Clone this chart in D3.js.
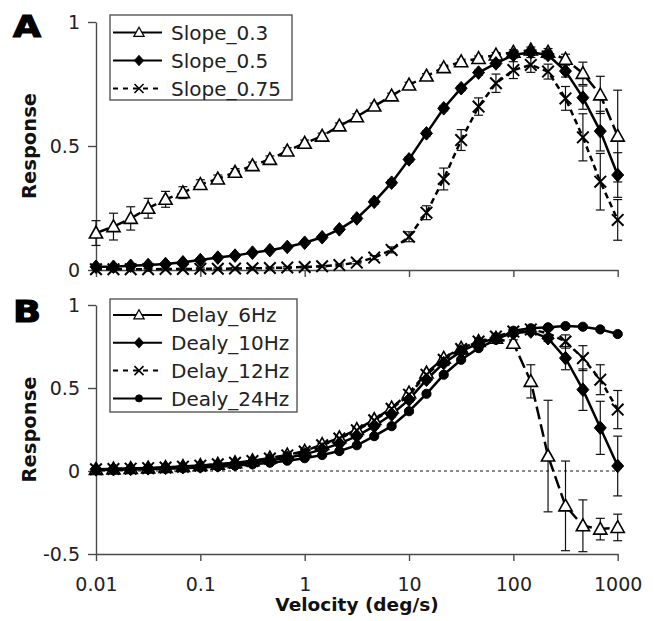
<!DOCTYPE html>
<html>
<head>
<meta charset="utf-8">
<script src="https://cdn.jsdelivr.net/npm/d3@7"></script>
<style>
  html, body { margin: 0; padding: 0; background: #fff; }
  svg { display: block; }
</style>
</head>
<body>
<svg id="chart" width="654" height="621"></svg>
<script>
// ---------------- DATA ----------------
const velocity = [0.01, 0.0147, 0.0215, 0.0316, 0.0464, 0.0681, 0.1, 0.147, 0.215, 0.316, 0.464, 0.681,
  1, 1.47, 2.15, 3.16, 4.64, 6.81, 10, 14.7, 21.5, 31.6, 46.4, 68.1, 100, 147, 215, 316, 464, 681, 1000];

const xTickValues = [0.01, 0.1, 1, 10, 100, 1000];
const xTickLabels = ["0.01", "0.1", "1", "10", "100", "1000"];
const yTicksA = [0, 0.5, 1];
const yTicksB = [-0.5, 0, 0.5, 1];

// Panel A
const slope03 = [0.149, 0.175, 0.208, 0.249, 0.285, 0.312, 0.345, 0.367, 0.394, 0.421, 0.446, 0.480, 0.511, 0.540, 0.581, 0.618,
  0.661, 0.702, 0.746, 0.782, 0.816, 0.840, 0.853, 0.867, 0.878, 0.887, 0.878, 0.850, 0.793, 0.706, 0.540];
const slope03Err = [0.05, 0.054, 0.047, 0.04, 0.032, 0.024, 0.019, 0.016, 0.015, 0.014, 0.014, 0.013, 0.013, 0.012, 0.012, 0.012,
  0.012, 0.011, 0.011, 0.01, 0.01, 0.01, 0.01, 0.01, 0.01, 0.012, 0.015, 0.02, 0.045, 0.075, 0.185];
const slope05 = [0.013, 0.013, 0.017, 0.02, 0.024, 0.031, 0.04, 0.05, 0.058, 0.07, 0.08, 0.093, 0.11, 0.132, 0.164, 0.208,
  0.275, 0.352, 0.446, 0.551, 0.652, 0.733, 0.796, 0.833, 0.867, 0.878, 0.867, 0.802, 0.695, 0.560, 0.383];
const slope05Err = [0.005, 0.005, 0.005, 0.005, 0.005, 0.005, 0.005, 0.005, 0.005, 0.005, 0.006, 0.006, 0.006, 0.007, 0.008, 0.009,
  0.01, 0.01, 0.01, 0.01, 0.01, 0.01, 0.01, 0.01, 0.012, 0.012, 0.015, 0.024, 0.047, 0.08, 0.09];
const slope075 = [0.003, 0.003, 0.003, 0.003, 0.004, 0.004, 0.005, 0.005, 0.006, 0.007, 0.008, 0.01, 0.012, 0.015, 0.02, 0.03,
  0.05, 0.081, 0.134, 0.231, 0.367, 0.524, 0.659, 0.753, 0.806, 0.827, 0.80, 0.692, 0.535, 0.356, 0.202];
const slope075Err = [0.003, 0.003, 0.003, 0.003, 0.003, 0.003, 0.003, 0.003, 0.003, 0.003, 0.003, 0.003, 0.003, 0.003, 0.004, 0.005,
  0.008, 0.012, 0.02, 0.028, 0.044, 0.042, 0.035, 0.037, 0.034, 0.03, 0.03, 0.048, 0.095, 0.114, 0.082];

// Panel B
const delay6 = [0.01, 0.012, 0.015, 0.018, 0.022, 0.027, 0.033, 0.041, 0.05, 0.062, 0.078, 0.097, 0.12, 0.16, 0.2, 0.25,
  0.31, 0.38, 0.47, 0.59, 0.68, 0.74, 0.78, 0.80, 0.77, 0.54, 0.09, -0.21, -0.33, -0.35, -0.34];
const delay6Err = [0.006, 0.006, 0.006, 0.006, 0.006, 0.006, 0.006, 0.007, 0.007, 0.008, 0.008, 0.009, 0.01, 0.01, 0.012, 0.012,
  0.014, 0.015, 0.015, 0.015, 0.015, 0.015, 0.015, 0.015, 0.02, 0.1, 0.336, 0.27, 0.156, 0.065, 0.08];
const delay10 = [0.01, 0.011, 0.013, 0.016, 0.019, 0.023, 0.028, 0.034, 0.042, 0.052, 0.064, 0.08, 0.1, 0.13, 0.165, 0.21,
  0.27, 0.34, 0.43, 0.55, 0.65, 0.72, 0.77, 0.80, 0.83, 0.84, 0.80, 0.68, 0.49, 0.26, 0.03];
const delay10Err = [0.006, 0.006, 0.006, 0.006, 0.006, 0.006, 0.006, 0.007, 0.007, 0.008, 0.008, 0.009, 0.01, 0.01, 0.012, 0.012,
  0.014, 0.015, 0.015, 0.015, 0.015, 0.015, 0.015, 0.015, 0.015, 0.015, 0.02, 0.07, 0.125, 0.16, 0.18];
const delay12 = [0.01, 0.012, 0.014, 0.017, 0.021, 0.026, 0.032, 0.04, 0.049, 0.06, 0.075, 0.094, 0.117, 0.155, 0.195, 0.245,
  0.305, 0.375, 0.46, 0.58, 0.67, 0.735, 0.78, 0.81, 0.84, 0.853, 0.83, 0.78, 0.68, 0.55, 0.37];
const delay12Err = [0.006, 0.006, 0.006, 0.006, 0.006, 0.006, 0.006, 0.007, 0.007, 0.008, 0.008, 0.009, 0.01, 0.01, 0.012, 0.012,
  0.014, 0.015, 0.015, 0.015, 0.015, 0.015, 0.015, 0.015, 0.015, 0.015, 0.02, 0.04, 0.075, 0.09, 0.115];
const delay24 = [0.005, 0.007, 0.009, 0.011, 0.014, 0.017, 0.021, 0.026, 0.032, 0.04, 0.05, 0.062, 0.077, 0.096, 0.12, 0.155,
  0.21, 0.27, 0.36, 0.465, 0.58, 0.67, 0.74, 0.79, 0.845, 0.86, 0.866, 0.873, 0.869, 0.853, 0.825];
const delay24Err = [0.005, 0.005, 0.005, 0.005, 0.005, 0.005, 0.005, 0.005, 0.006, 0.006, 0.006, 0.007, 0.007, 0.008, 0.008, 0.009,
  0.01, 0.01, 0.01, 0.01, 0.01, 0.01, 0.01, 0.01, 0.01, 0.01, 0.01, 0.01, 0.01, 0.01, 0.01];

// ---------------- SETUP ----------------
const svg = d3.select("#chart");
const FONT = "'DejaVu Sans', Verdana, sans-serif";
const AXIS_COLOR = "#4a4a4a";

const x = d3.scaleLog().domain([0.01, 1000]).range([96, 617.7]);
const yA = d3.scaleLinear().domain([0, 1]).range([270, 22]);
const yB = d3.scaleLinear().domain([-0.5, 1]).range([554, 305]);

const markerPaths = {
  triangle: "M0,-6.8 L6.6,5 L-6.6,5 Z",
  diamond: "M0,-6.8 L6,0 L0,6.8 L-6,0 Z",
  cross: "M-5.8,-5.8 L5.8,5.8 M-5.8,5.8 L5.8,-5.8"
};

const panelA = [
  { name: "Slope_0.3", values: slope03, err: slope03Err, marker: "triangle", dash: "13,5" },
  { name: "Slope_0.5", values: slope05, err: slope05Err, marker: "diamond", dash: null },
  { name: "Slope_0.75", values: slope075, err: slope075Err, marker: "cross", dash: "6,4" }
];
const panelB = [
  { name: "Delay_6Hz", values: delay6, err: delay6Err, marker: "triangle", dash: "13,5" },
  { name: "Dealy_10Hz", values: delay10, err: delay10Err, marker: "diamond", dash: null },
  { name: "Delay_12Hz", values: delay12, err: delay12Err, marker: "cross", dash: "6,4" },
  { name: "Dealy_24Hz", values: delay24, err: delay24Err, marker: "circle", dash: null }
];

function drawMarker(sel, type) {
  if (type === "circle") {
    sel.append("circle").attr("r", 4.6).attr("fill", "#000").attr("stroke", "#000").attr("stroke-width", 1);
  } else if (type === "triangle") {
    sel.append("path").attr("d", markerPaths.triangle).attr("fill", "#fff").attr("stroke", "#000").attr("stroke-width", 1.6);
  } else if (type === "diamond") {
    sel.append("path").attr("d", markerPaths.diamond).attr("fill", "#000").attr("stroke", "#000").attr("stroke-width", 1);
  } else if (type === "cross") {
    sel.append("path").attr("d", markerPaths.cross).attr("fill", "none").attr("stroke", "#000").attr("stroke-width", 2);
  }
}

function drawPanel(y, series, opts) {
  const g = svg.append("g");

  if (opts.zeroLine) {
    g.append("line")
      .attr("x1", x.range()[0]).attr("x2", x.range()[1])
      .attr("y1", y(0)).attr("y2", y(0))
      .attr("stroke", "#666").attr("stroke-width", 1.5).attr("stroke-dasharray", "3,3");
  }

  const yAxis = d3.axisLeft(y).tickValues(opts.yTicks).tickSize(8).tickSizeOuter(0).tickPadding(8)
    .tickFormat(d => String(d));
  const ya = g.append("g").attr("transform", `translate(${x.range()[0]},0)`).call(yAxis);

  const xAxis = d3.axisBottom(x).tickValues(xTickValues).tickSize(7).tickSizeOuter(0).tickPadding(17)
    .tickFormat((d, i) => opts.xLabels ? xTickLabels[i] : "");
  const xa = g.append("g").attr("transform", `translate(0,${y.range()[0]})`).call(xAxis);

  [ya, xa].forEach(a => {
    a.selectAll("path.domain").attr("stroke", AXIS_COLOR).attr("stroke-width", 1.4);
    a.selectAll(".tick line").attr("stroke", AXIS_COLOR).attr("stroke-width", 1.4);
    a.selectAll(".tick text").attr("font-family", FONT).attr("font-size", 19).attr("fill", "#222");
  });

  const line = d3.line().x((d, i) => x(velocity[i])).y(d => y(d));
  series.forEach(s => {
    g.append("path").datum(s.values)
      .attr("d", line)
      .attr("fill", "none").attr("stroke", "#000").attr("stroke-width", 2.5)
      .attr("stroke-dasharray", s.dash);
  });

  series.forEach(s => {
    const eg = g.append("g");
    s.values.forEach((v, i) => {
      const cx = x(velocity[i]);
      const y1 = y(v - s.err[i]), y2 = y(v + s.err[i]);
      eg.append("line").attr("x1", cx).attr("x2", cx).attr("y1", y1).attr("y2", y2)
        .attr("stroke", "#111").attr("stroke-width", 1.2);
      [y1, y2].forEach(yy => {
        eg.append("line").attr("x1", cx - 4.5).attr("x2", cx + 4.5).attr("y1", yy).attr("y2", yy)
          .attr("stroke", "#111").attr("stroke-width", 1.2);
      });
    });
  });

  series.forEach(s => {
    const mg = g.append("g");
    s.values.forEach((v, i) => {
      const m = mg.append("g").attr("transform", `translate(${x(velocity[i])},${y(v)})`);
      drawMarker(m, s.marker);
    });
  });

  const lg = g.append("g");
  lg.append("rect")
    .attr("x", opts.legend.x).attr("y", opts.legend.y)
    .attr("width", opts.legend.w).attr("height", opts.legend.h)
    .attr("fill", "#fff").attr("stroke", "#555").attr("stroke-width", 1.4);
  series.forEach((s, i) => {
    const ry = opts.legend.y + opts.legend.first + i * opts.legend.step;
    const x0 = opts.legend.x + 3, xm = opts.legend.x + 29, x1 = opts.legend.x + 52;
    const isShortDash = s.dash && s.dash.startsWith("6");
    lg.append("line").attr("x1", x0).attr("x2", x1).attr("y1", ry).attr("y2", ry)
      .attr("stroke", "#000").attr("stroke-width", 2)
      .attr("stroke-dasharray", isShortDash ? "5,5" : null);
    const m = lg.append("g").attr("transform", `translate(${xm},${ry}) scale(0.78)`);
    drawMarker(m, s.marker);
    lg.append("text").attr("x", opts.legend.x + 61).attr("y", ry).attr("dy", "0.36em")
      .attr("font-family", FONT).attr("font-size", 20).attr("fill", "#222").text(s.name);
  });

  const yc = (y.range()[0] + y.range()[1]) / 2;
  g.append("text")
    .attr("transform", `translate(36,${yc}) rotate(-90)`)
    .attr("text-anchor", "middle")
    .attr("font-family", FONT).attr("font-weight", "bold").attr("font-size", 19.5).attr("fill", "#111")
    .text("Response");

  g.append("text")
    .attr("x", 13).attr("y", opts.letterY)
    .attr("font-family", FONT).attr("font-weight", "bold").attr("font-size", 31).attr("fill", "#000")
    .attr("textLength", 28).attr("lengthAdjust", "spacingAndGlyphs")
    .attr("stroke", "#000").attr("stroke-width", 1.2)
    .text(opts.letter);
}

drawPanel(yA, panelA, {
  yTicks: yTicksA, xLabels: false, zeroLine: false, letter: "A", letterY: 37,
  legend: { x: 110, y: 15, w: 182, h: 85, first: 17.5, step: 28 }
});
drawPanel(yB, panelB, {
  yTicks: yTicksB, xLabels: true, zeroLine: true, letter: "B", letterY: 322,
  legend: { x: 110, y: 299, w: 187, h: 113, first: 16, step: 27.8 }
});

svg.append("text")
  .attr("x", 357).attr("y", 611)
  .attr("text-anchor", "middle")
  .attr("font-family", FONT).attr("font-weight", "bold").attr("font-size", 18.5).attr("fill", "#111")
  .text("Velocity (deg/s)");
</script>
</body>
</html>
